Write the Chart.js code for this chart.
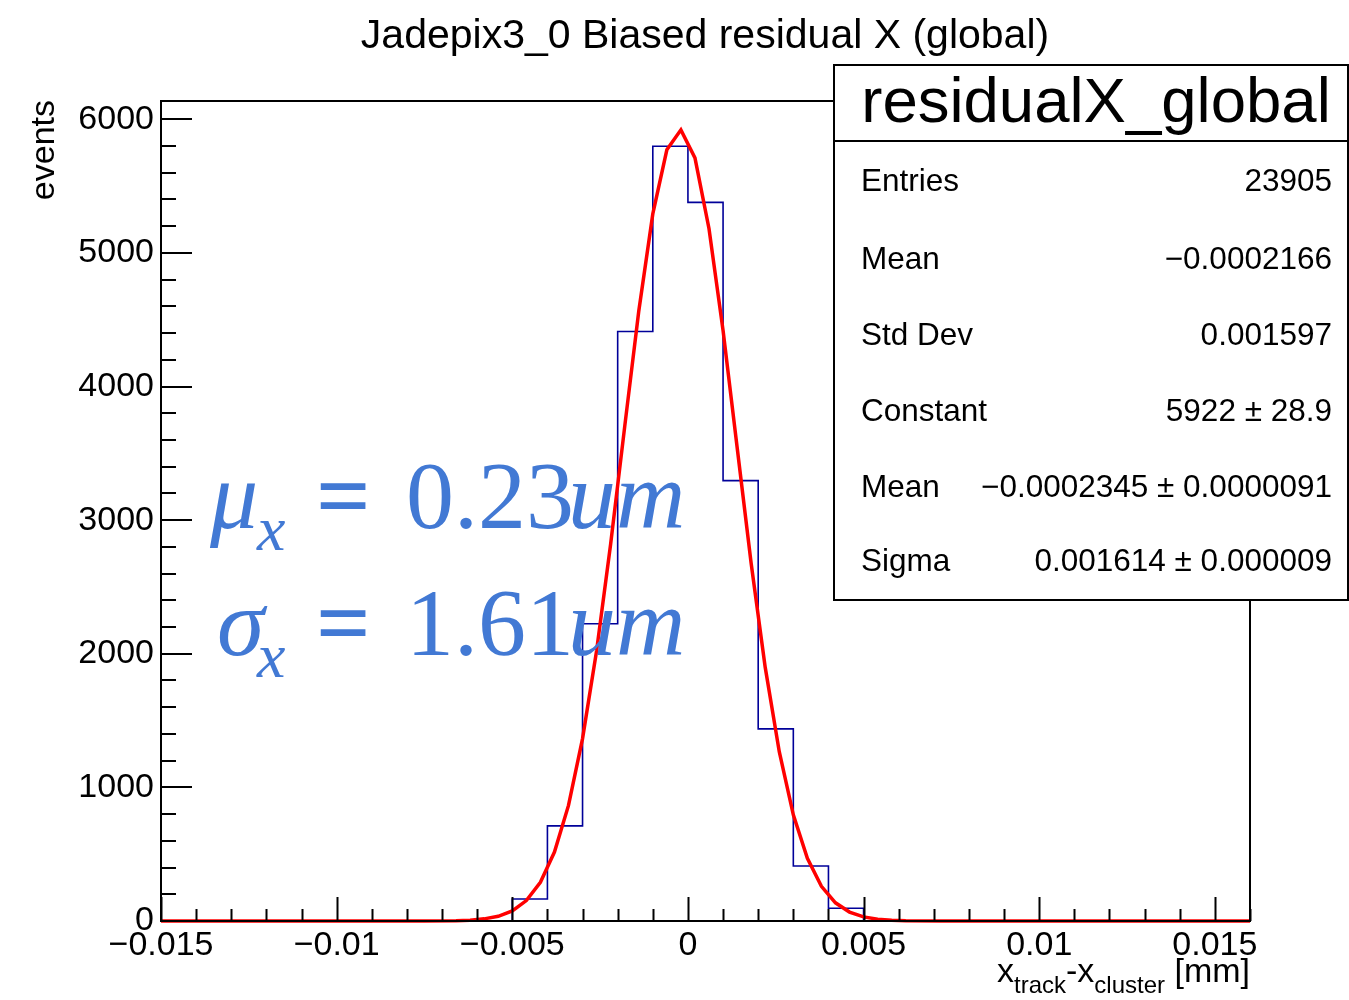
<!DOCTYPE html>
<html>
<head>
<meta charset="utf-8">
<script src="https://cdn.jsdelivr.net/npm/chart.js@4.4.0/dist/chart.umd.min.js"></script>
<style>
    body { margin: 0; background: #fff; }
    #box { width: 1349px; height: 1000px; }
</style>
</head>
<body>
<div id="box"><canvas id="myChart" width="1349" height="1000"></canvas></div>
<script>
// histogram: 31 bins of 0.001 mm from -0.015 to 0.016
var binLow = -0.015;
var binWidth = 0.001;
var binCounts = [0, 0, 0, 0, 0, 0, 0, 0, 0, 0,
    165, 712, 2225, 4412, 5798, 5378, 3296, 1438, 412, 95,
    0, 0, 0, 0, 0, 0, 0, 0, 0, 0, 0];

// gaussian fit curve
var fitX = [-0.015, -0.0075, -0.0066, -0.0062, -0.0058, -0.0054, -0.0050, -0.0046, -0.0042, -0.0038,
    -0.0034, -0.0030, -0.0026, -0.0022, -0.0018, -0.0014, -0.0010, -0.0006, -0.0002,
    0.0002, 0.0006, 0.0010, 0.0014, 0.0018, 0.0022, 0.0026, 0.0030, 0.0034, 0.0038,
    0.0042, 0.0046, 0.0050, 0.0054, 0.0058, 0.0062, 0.0072, 0.016];
var fitY = [0, 0.1, 2, 6, 16, 35, 76, 153, 290, 516,
    865, 1365, 2023, 2821, 3700, 4563, 5292, 5772, 5921,
    5711, 5181, 4420, 3546, 2676, 1898, 1267, 795, 469, 260,
    136, 67, 31, 13, 5.5, 2, 0.1, 0];

var xMajorTicks = [-0.015, -0.01, -0.005, 0, 0.005, 0.01, 0.015];
var xTickLabels = ['\u22120.015', '\u22120.01', '\u22120.005', '0', '0.005', '0.01', '0.015'];
var xMinorStep = 0.001;
var yMajorTicks = [0, 1000, 2000, 3000, 4000, 5000, 6000];
var yTickLabels = ['0', '1000', '2000', '3000', '4000', '5000', '6000'];
var yMinorStep = 200;

var statNames = ['Entries', 'Mean', 'Std Dev', 'Constant', 'Mean', 'Sigma'];
var statValues = ['23905', '\u22120.0002166', '0.001597', '5922 \u00b1 28.9',
    '\u22120.0002345 \u00b1 0.0000091', '0.001614 \u00b1 0.000009'];

var sans = "'Liberation Sans', Arial, Helvetica, sans-serif";
var serif = "'Liberation Serif', 'Times New Roman', serif";
var mathBlue = '#4279d4';

var histPoints = [];
for (var i = 0; i < binCounts.length; i++) {
    histPoints.push({ x: binLow + i * binWidth, y: binCounts[i] });
}
histPoints.push({ x: binLow + binCounts.length * binWidth, y: 0 });

var fitPoints = [];
for (var j = 0; j < fitX.length; j++) {
    fitPoints.push({ x: fitX[j], y: fitY[j] });
}

function minorTicks(min, max, step) {
    var out = [];
    var n0 = Math.ceil(min / step - 1e-9);
    var n1 = Math.floor(max / step + 1e-9);
    for (var n = n0; n <= n1; n++) {
        out.push({ value: Number((n * step).toPrecision(10)) });
    }
    return out;
}

function labelFor(value, majors, labels) {
    for (var k = 0; k < majors.length; k++) {
        if (Math.abs(value - majors[k]) < 1e-9 * Math.max(1, Math.abs(majors[k]))) return labels[k];
    }
    return '';
}

function isMajor(value, majors) {
    return labelFor(value, majors, majors.map(function () { return 'x'; })) !== '';
}

// frame, inward ticks and all the ROOT text drawn on top
var rootDecor = {
    id: 'rootDecor',
    afterDraw: function (chart) {
        var ctx = chart.ctx;
        var a = chart.chartArea;
        var xs = chart.scales.x;
        var ys = chart.scales.y;
        ctx.save();

        ctx.strokeStyle = '#000';
        ctx.lineWidth = 2;
        ctx.strokeRect(a.left, a.top, a.right - a.left, a.bottom - a.top);

        ctx.lineWidth = 2;
        ctx.beginPath();
        xs.ticks.forEach(function (t) {
            var px = Math.round(xs.getPixelForValue(t.value)) + 0.5;
            var len = isMajor(t.value, xMajorTicks) ? 24 : 12;
            ctx.moveTo(px, a.bottom);
            ctx.lineTo(px, a.bottom - len);
        });
        ys.ticks.forEach(function (t) {
            var py = Math.round(ys.getPixelForValue(t.value));
            var len = isMajor(t.value, yMajorTicks) ? 31 : 15;
            ctx.moveTo(a.left, py);
            ctx.lineTo(a.left + len, py);
        });
        ctx.stroke();

        // title
        ctx.fillStyle = '#000';
        ctx.textAlign = 'center';
        ctx.textBaseline = 'alphabetic';
        ctx.font = '41px ' + sans;
        ctx.fillText('Jadepix3_0 Biased residual X (global)', 705, 48);

        // y title
        ctx.save();
        ctx.translate(54, 100);
        ctx.rotate(-Math.PI / 2);
        ctx.textAlign = 'right';
        ctx.font = '34px ' + sans;
        ctx.fillText('events', 0, 0);
        ctx.restore();

        // x title with subscripts, right aligned on the frame
        var parts = [['x', 34, 0], ['track', 24, 11], ['-x', 34, 0], ['cluster', 24, 11], [' [mm]', 34, 0]];
        var total = 0;
        parts.forEach(function (p) { ctx.font = p[1] + 'px ' + sans; p.push(ctx.measureText(p[0]).width); total += p[3]; });
        var cx = a.right - total;
        ctx.textAlign = 'left';
        parts.forEach(function (p) {
            ctx.font = p[1] + 'px ' + sans;
            ctx.fillText(p[0], cx, 982 + p[2]);
            cx += p[3];
        });

        // stats box
        ctx.fillStyle = '#fff';
        ctx.fillRect(834, 65, 1349 - 834, 600 - 65);
        ctx.strokeStyle = '#000';
        ctx.lineWidth = 2;
        ctx.strokeRect(834, 65, 1348 - 834, 600 - 65);
        ctx.beginPath();
        ctx.moveTo(834, 141);
        ctx.lineTo(1349, 141);
        ctx.stroke();
        ctx.fillStyle = '#000';
        ctx.font = '63.5px ' + sans;
        ctx.textAlign = 'center';
        ctx.fillText('residualX_global', 1096, 122);
        var rowY = [191, 269, 345, 421, 497, 571];
        ctx.font = '31.5px ' + sans;
        for (var r = 0; r < statNames.length; r++) {
            ctx.textAlign = 'left';
            ctx.fillText(statNames[r], 861, rowY[r]);
            ctx.textAlign = 'right';
            ctx.fillText(statValues[r], 1332, rowY[r]);
        }

        // fit result annotation
        ctx.fillStyle = mathBlue;
        ctx.textAlign = 'left';
        var lines = [['\u03bc', 210, 528], ['\u03c3', 217, 655]];
        var nums = ['0.23', '1.61'];
        for (var m = 0; m < lines.length; m++) {
            var by = lines[m][2];
            ctx.font = 'italic 96px ' + serif;
            ctx.fillText(lines[m][0], lines[m][1], by);
            ctx.font = 'italic 64px ' + serif;
            ctx.fillText('x', 257, by + 22);
            ctx.font = 'bold 96px ' + serif;
            ctx.fillText('=', 316, by);
            ctx.font = '96px ' + serif;
            ctx.fillText(nums[m], 406, by);
            ctx.font = 'italic 96px ' + serif;
            ctx.fillText('um', 568, by);
        }
        ctx.restore();
    }
};

const config = {
    type: 'line',
    data: {
        datasets: [{
            label: 'fit',
            data: fitPoints,
            borderColor: '#ff0000',
            borderWidth: 3.5,
            pointRadius: 0,
            tension: 0,
            clip: 4,
            order: 0
        }, {
            label: 'residualX_global',
            data: histPoints,
            borderColor: '#000099',
            borderWidth: 1.6,
            pointRadius: 0,
            stepped: 'before',
            fill: false,
            clip: 4,
            order: 1
        }]
    },
    options: {
        responsive: false,
        animation: false,
        events: [],
        layout: {
            padding: { left: 0, right: 99, top: 101, bottom: 0 }
        },
        scales: {
            x: {
                type: 'linear',
                min: -0.015,
                max: 0.016,
                grid: { display: false, drawTicks: false },
                border: { display: false },
                afterBuildTicks: function (scale) {
                    scale.ticks = minorTicks(scale.min, scale.max, xMinorStep);
                },
                afterFit: function (scale) { scale.height = 79; },
                ticks: {
                    autoSkip: false,
                    maxRotation: 0,
                    padding: 4,
                    color: '#000',
                    font: { family: sans, size: 34 },
                    callback: function (value) { return labelFor(value, xMajorTicks, xTickLabels); }
                }
            },
            y: {
                type: 'linear',
                min: 0,
                max: 6137,
                grid: { display: false, drawTicks: false },
                border: { display: false },
                afterBuildTicks: function (scale) {
                    scale.ticks = minorTicks(scale.min, scale.max, yMinorStep);
                },
                afterFit: function (scale) { scale.width = 161; },
                ticks: {
                    autoSkip: false,
                    padding: 7,
                    color: '#000',
                    font: { family: sans, size: 34 },
                    callback: function (value) { return labelFor(value, yMajorTicks, yTickLabels); }
                }
            }
        },
        plugins: {
            legend: { display: false },
            title: { display: false },
            tooltip: { enabled: false }
        }
    },
    plugins: [rootDecor]
};

let myChart = new Chart(document.getElementById('myChart'), config);
</script>
</body>
</html>
